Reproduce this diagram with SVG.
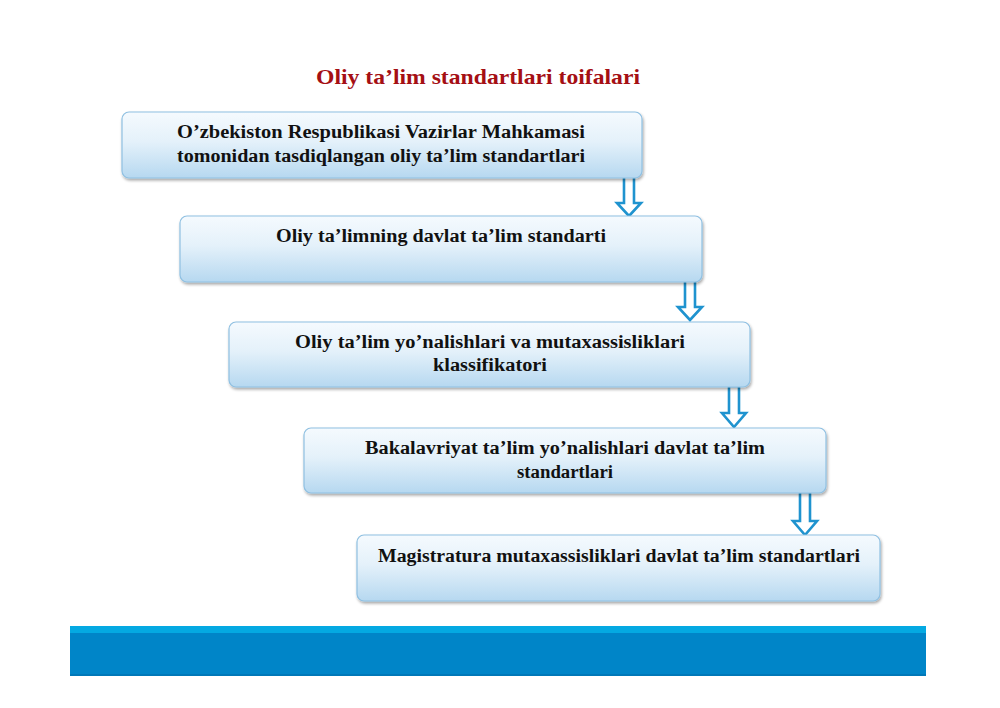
<svg xmlns="http://www.w3.org/2000/svg" width="1000" height="708" viewBox="0 0 1000 708">
<defs>
<linearGradient id="boxg" x1="0" y1="0" x2="0" y2="1">
<stop offset="0" stop-color="#f5fafe"/>
<stop offset="0.45" stop-color="#e4f1fa"/>
<stop offset="1" stop-color="#b6d8f0"/>
</linearGradient>
<filter id="sh" x="-5%" y="-10%" width="110%" height="130%">
<feGaussianBlur in="SourceAlpha" stdDeviation="1.5"/>
<feOffset dx="1" dy="2" result="b"/>
<feComponentTransfer><feFuncA type="linear" slope="0.35"/></feComponentTransfer>
<feMerge><feMergeNode/><feMergeNode in="SourceGraphic"/></feMerge>
</filter>
</defs>
<style>
.box{fill:url(#boxg);stroke:#8fc0e2;stroke-width:1.2;filter:url(#sh)}
.t{font-family:"Liberation Serif","Times New Roman",serif;font-size:18px;fill:#111;font-weight:bold}
.arr{fill:#fff;stroke:#1f93cf;stroke-width:2.6;stroke-linejoin:miter}
.title{font-family:"Liberation Serif","Times New Roman",serif;font-size:21px;font-weight:bold;fill:#a50f14}
</style>
<rect width="1000" height="708" fill="#fff"/>
<text class="title" x="478" y="84" text-anchor="middle" textLength="324" lengthAdjust="spacingAndGlyphs">Oliy ta’lim standartlari toifalari</text>
<g id="connectors">
<path class="arr" d="M624,176 L634,176 L634,203 L641,203 L629,216 L617,203 L624,203 Z"/>
<path class="arr" d="M685,280 L695,280 L695,307 L702,307 L690,320 L678,307 L685,307 Z"/>
<path class="arr" d="M729,386 L739,386 L739,413 L746,413 L734,427 L722,413 L729,413 Z"/>
<path class="arr" d="M800,492 L810,492 L810,521 L817,521 L805,535 L793,521 L800,521 Z"/>
</g>
<g id="node1">
<rect class="box" x="122" y="112" width="520" height="66" rx="7"/>
<text class="t" x="381" y="138" text-anchor="middle" textLength="408" lengthAdjust="spacingAndGlyphs">O’zbekiston Respublikasi Vazirlar Mahkamasi</text>
<text class="t" x="381" y="162" text-anchor="middle" textLength="408" lengthAdjust="spacingAndGlyphs">tomonidan tasdiqlangan oliy ta’lim standartlari</text>
</g>
<g id="node2">
<rect class="box" x="180" y="216" width="522" height="66" rx="7"/>
<text class="t" x="441" y="242" text-anchor="middle" textLength="330" lengthAdjust="spacingAndGlyphs">Oliy ta’limning davlat ta’lim standarti</text>
</g>
<g id="node3">
<rect class="box" x="229" y="322" width="521" height="65" rx="7"/>
<text class="t" x="490" y="348" text-anchor="middle" textLength="390" lengthAdjust="spacingAndGlyphs">Oliy ta’lim yo’nalishlari va mutaxassisliklari</text>
<text class="t" x="490" y="371" text-anchor="middle" textLength="114" lengthAdjust="spacingAndGlyphs">klassifikatori</text>
</g>
<g id="node4">
<rect class="box" x="304" y="428" width="522" height="65" rx="7"/>
<text class="t" x="565" y="454" text-anchor="middle" textLength="400" lengthAdjust="spacingAndGlyphs">Bakalavriyat ta’lim yo’nalishlari davlat ta’lim</text>
<text class="t" x="565" y="478" text-anchor="middle" textLength="96" lengthAdjust="spacingAndGlyphs">standartlari</text>
</g>
<g id="node5">
<rect class="box" x="357" y="535" width="523" height="66" rx="7"/>
<text class="t" x="619" y="562" text-anchor="middle" textLength="482" lengthAdjust="spacingAndGlyphs">Magistratura mutaxassisliklari davlat ta’lim standartlari</text>
</g>
<rect x="70" y="626" width="856" height="50" fill="#0085c8"/>
<rect x="70" y="626" width="856" height="7" fill="#04a9e2"/>
<rect x="70" y="674" width="856" height="2" fill="#0078b8"/>
</svg>
